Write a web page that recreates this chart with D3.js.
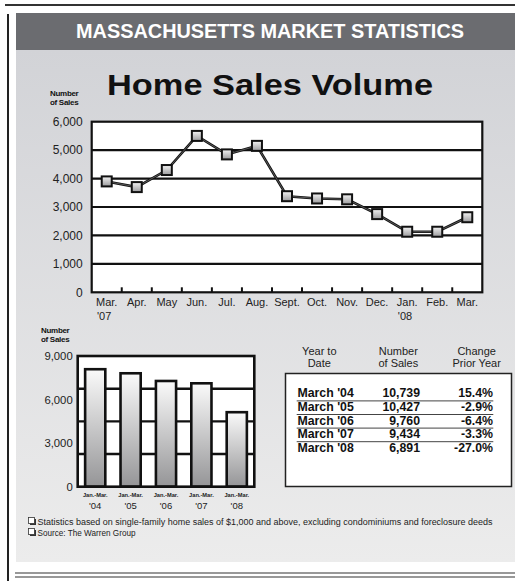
<!DOCTYPE html>
<html><head><meta charset="utf-8">
<script src="https://cdn.jsdelivr.net/npm/d3@7/dist/d3.min.js"></script>
<style>body{margin:0;background:#fff}svg{display:block}</style>
</head><body>
<svg id="c" width="515" height="581"></svg>
<script>
// ---------- data ----------
const months = ["Mar.","Apr.","May","Jun.","Jul.","Aug.","Sept.","Oct.","Nov.","Dec.","Jan.","Feb.","Mar."];
const monthYears = ["'07","","","","","","","","","","'08","",""];
const monthlySales = [3900,3700,4300,5500,4850,5150,3380,3300,3270,2750,2130,2130,2640];
const lineTicks = [0,1000,2000,3000,4000,5000,6000];
const periodYears = ["'04","'05","'06","'07","'08"];
const periodLabel = "Jan.-Mar.";
const quarterSales = [8090,7810,7280,7120,5130];
const barTicks = [0,3000,6000,9000];
const barGrid = [2250,4500,6750];
const tableHeads = [["Year to","Date"],["Number","of Sales"],["Change","Prior Year"]];
const tablePeriods = ["March '04","March '05","March '06","March '07","March '08"];
const tableSales = ["10,739","10,427","9,760","9,434","6,891"];
const tableChange = ["15.4%","-2.9%","-6.4%","-3.3%","-27.0%"];
const notes = ["Statistics based on single-family home sales of $1,000 and above, excluding condominiums and foreclosure deeds","Source: The Warren Group"];

const NARROW = "'Liberation Sans Narrow','Arial Narrow',sans-serif";
const SANS = "'Liberation Sans',Arial,Helvetica,sans-serif";

const svg = d3.select("#c");
const defs = svg.append("defs");
const pg = defs.append("linearGradient").attr("id","panel").attr("x1",0).attr("y1",0).attr("x2",0).attr("y2",1);
pg.append("stop").attr("offset",0).attr("stop-color","#d2d3d7");
pg.append("stop").attr("offset",1).attr("stop-color","#ececec");
const mg = defs.append("linearGradient").attr("id","mk").attr("x1",0).attr("y1",0).attr("x2",0).attr("y2",1);
mg.append("stop").attr("offset",0).attr("stop-color","#f4f4f4");
mg.append("stop").attr("offset",1).attr("stop-color","#9a9a9c");
const bg = defs.append("linearGradient").attr("id","bar").attr("x1",0).attr("y1",0).attr("x2",0).attr("y2",1);
bg.append("stop").attr("offset",0).attr("stop-color","#fafafa");
bg.append("stop").attr("offset",1).attr("stop-color","#959597");

// ---------- frame ----------
svg.append("rect").attr("width",515).attr("height",581).attr("fill","#fff");
svg.append("rect").attr("x",16).attr("y",50).attr("width",499).attr("height",512).attr("fill","url(#panel)");
svg.append("rect").attr("x",16).attr("y",13).attr("width",499).attr("height",37).attr("fill","#6b6c70");
svg.append("line").attr("x1",5).attr("x2",515).attr("y1",5).attr("y2",5).attr("stroke","#333").attr("stroke-width",2);
svg.append("line").attr("x1",8).attr("x2",8).attr("y1",14).attr("y2",581).attr("stroke","#222").attr("stroke-width",2);
[573,577].forEach(y=>svg.append("line").attr("x1",15).attr("x2",515).attr("y1",y).attr("y2",y).attr("stroke","#333").attr("stroke-width",1.2));

svg.append("text").attr("x",270).attr("y",38).attr("text-anchor","middle")
  .attr("font-family",SANS).attr("font-weight","bold").attr("font-size",20)
  .attr("textLength",388).attr("lengthAdjust","spacingAndGlyphs")
  .attr("fill","#fff").text("MASSACHUSETTS MARKET STATISTICS");

svg.append("text").attr("x",270).attr("y",95).attr("text-anchor","middle")
  .attr("font-family",SANS).attr("font-weight","bold").attr("font-size",30)
  .attr("textLength",326).attr("lengthAdjust","spacingAndGlyphs")
  .attr("fill","#111").text("Home Sales Volume");

function unitLabel(x,y){
  const t = svg.append("text").attr("font-family",SANS).attr("font-weight","bold").attr("font-size",8)
    .attr("letter-spacing",-0.3).attr("fill","#111");
  t.append("tspan").attr("x",x).attr("y",y).text("Number");
  t.append("tspan").attr("x",x).attr("y",y+9).text("of Sales");
}

// ---------- line chart ----------
const L = {l:91.7, r:482.3, t:121.7, b:292.3};
const x = d3.scaleBand().domain(d3.range(months.length)).range([L.l,L.r]);
const y = d3.scaleLinear().domain([0,6000]).range([L.b,L.t]);
unitLabel(50,96);
svg.append("rect").attr("x",L.l).attr("y",L.t).attr("width",L.r-L.l).attr("height",L.b-L.t).attr("fill","#fff");
svg.append("g").selectAll("line").data(lineTicks.slice(1,-1)).join("line")
  .attr("x1",L.l).attr("x2",L.r).attr("y1",d=>y(d)).attr("y2",d=>y(d)).attr("stroke","#111").attr("stroke-width",2.2);
const yAxis = svg.append("g").attr("transform",`translate(${L.l},0)`)
  .call(d3.axisLeft(y).tickValues(lineTicks).tickFormat(d3.format(",")).tickSize(0).tickPadding(9));
yAxis.select(".domain").remove();
yAxis.selectAll("text").attr("font-family",SANS).attr("font-size",12).attr("fill","#222");
svg.append("g").selectAll("line").data(d3.range(1,months.length)).join("line")
  .attr("x1",d=>x(d)).attr("x2",d=>x(d)).attr("y1",L.b).attr("y2",L.b-5).attr("stroke","#111").attr("stroke-width",2);
svg.append("rect").attr("x",L.l).attr("y",L.t).attr("width",L.r-L.l).attr("height",L.b-L.t).attr("fill","none").attr("stroke","#111").attr("stroke-width",2.2);
const xl = svg.append("g").selectAll("g").data(months).join("g");
xl.append("text").attr("x",(d,i)=>x(i)+x.bandwidth()/2).attr("y",305.5).attr("text-anchor","middle")
  .attr("font-family",SANS).attr("font-size",11).attr("fill","#222").text(d=>d);
xl.each(function(d,i){
  if(!monthYears[i]) return;
  const w = d3.select(this).select("text").node().getComputedTextLength();
  d3.select(this).append("text").attr("x",x(i)+x.bandwidth()/2-w/2+1).attr("y",319.5)
    .attr("font-family",SANS).attr("font-size",11).attr("fill","#222").text(monthYears[i]);
});
const line = d3.line().x((d,i)=>x(i)+x.bandwidth()/2).y(d=>y(d));
svg.append("path").datum(monthlySales).attr("d",line).attr("fill","none").attr("stroke","#111").attr("stroke-width",2.6);
svg.append("path").datum(monthlySales).attr("d",line).attr("fill","none").attr("stroke","#777").attr("stroke-width",0.7);
svg.append("g").selectAll("rect").data(monthlySales).join("rect")
  .attr("x",(d,i)=>x(i)+x.bandwidth()/2-5).attr("y",d=>y(d)-5).attr("width",10).attr("height",10)
  .attr("fill","url(#mk)").attr("stroke","#111").attr("stroke-width",2);

// ---------- bar chart ----------
const B = {l:77.7, r:254.3, t:356, b:486.7};
const bx = d3.scaleBand().domain(d3.range(quarterSales.length)).range([B.l,B.r]).paddingInner(0.43).paddingOuter(0.21);
const by = d3.scaleLinear().domain([0,9000]).range([B.b,B.t]);
unitLabel(41,333);
svg.append("rect").attr("x",B.l).attr("y",B.t).attr("width",B.r-B.l).attr("height",B.b-B.t).attr("fill","#fff");
svg.append("g").selectAll("line").data(barGrid).join("line")
  .attr("x1",B.l).attr("x2",B.r).attr("y1",d=>by(d)).attr("y2",d=>by(d)).attr("stroke","#111").attr("stroke-width",2.4);
const byAxis = svg.append("g").attr("transform",`translate(${B.l},0)`)
  .call(d3.axisLeft(by).tickValues(barTicks).tickFormat(d3.format(",")).tickSize(0).tickPadding(5));
byAxis.select(".domain").remove();
byAxis.selectAll("text").attr("font-family",SANS).attr("font-size",11.3).attr("fill","#222");
svg.append("g").selectAll("rect").data(quarterSales).join("rect")
  .attr("x",(d,i)=>bx(i)).attr("y",d=>by(d)).attr("width",bx.bandwidth()).attr("height",d=>B.b-by(d))
  .attr("fill","url(#bar)").attr("stroke","#111").attr("stroke-width",2.6);
svg.append("rect").attr("x",B.l).attr("y",B.t).attr("width",B.r-B.l).attr("height",B.b-B.t).attr("fill","none").attr("stroke","#111").attr("stroke-width",2.6);
const bl = svg.append("g").selectAll("g").data(periodYears).join("g");
bl.append("text").attr("x",(d,i)=>bx(i)+bx.bandwidth()/2).attr("y",496.5).attr("text-anchor","middle")
  .attr("font-family",SANS).attr("font-weight","bold").attr("font-size",5.7).attr("fill","#222").text(periodLabel);
bl.append("text").attr("x",(d,i)=>bx(i)+bx.bandwidth()/2).attr("y",508.5).attr("text-anchor","middle")
  .attr("font-family",SANS).attr("font-size",9.5).attr("fill","#222").text(d=>d);

// ---------- table ----------
const colX = [319.3, 398.3, 476.7];
tableHeads.forEach((h,i)=>{
  const t = svg.append("text").attr("text-anchor","middle").attr("font-family",SANS).attr("font-size",11).attr("fill","#222");
  t.append("tspan").attr("x",colX[i]).attr("y",354.5).text(h[0]);
  t.append("tspan").attr("x",colX[i]).attr("y",366.5).text(h[1]);
});
svg.append("rect").attr("x",285.5).attr("y",373.5).attr("width",226).attr("height",113).attr("fill","#fff").attr("stroke","#222").attr("stroke-width",1.5);
const rowY = d3.scaleBand().domain(d3.range(tablePeriods.length)).range([386.5,454.5]);
const rows = svg.append("g").selectAll("g").data(tablePeriods).join("g");
const cell = (sel,xx,anchor,fn)=>sel.append("text").attr("x",xx).attr("y",(d,i)=>rowY(i)+10.8).attr("text-anchor",anchor)
  .attr("font-family",SANS).attr("font-weight","bold").attr("font-size",12.3).attr("fill","#111").text(fn);
cell(rows,297.5,"start",d=>d);
cell(rows,420,"end",(d,i)=>tableSales[i]);
cell(rows,493,"end",(d,i)=>tableChange[i]);
svg.append("g").selectAll("line").data(d3.range(1,tablePeriods.length)).join("line")
  .attr("x1",296.7).attr("x2",493.3).attr("y1",d=>rowY(d)+0.8).attr("y2",d=>rowY(d)+0.8).attr("stroke","#444").attr("stroke-width",1);

// ---------- notes ----------
notes.forEach((n,i)=>{
  const yy = 521.5 + i*11;
  svg.append("rect").attr("x",30).attr("y",yy-2.5).attr("width",6).attr("height",6).attr("fill","#333");
  svg.append("rect").attr("x",28.5).attr("y",yy-4).attr("width",6).attr("height",6).attr("fill","#fff").attr("stroke","#333").attr("stroke-width",0.8);
  const t = svg.append("text").attr("x",37.5).attr("y",yy+3).attr("font-family",SANS).attr("font-size",8.5).attr("fill","#222").text(n);
  if(i===0) t.attr("textLength",455).attr("lengthAdjust","spacingAndGlyphs");
  else t.attr("textLength",98).attr("lengthAdjust","spacingAndGlyphs");
});
</script>
</body></html>
